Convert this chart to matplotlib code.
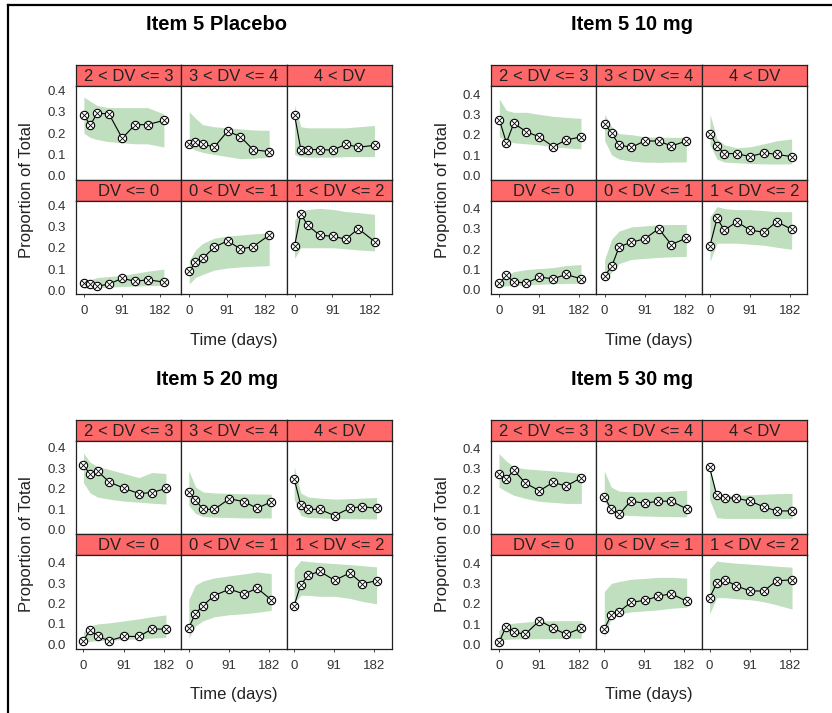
import matplotlib.pyplot as plt
from matplotlib.lines import Line2D

plt.rcParams['font.family'] = ['Liberation Sans', 'DejaVu Sans']

# facet order: top row left->right, then bottom row left->right
strip_labels = ['2 < DV <= 3', '3 < DV <= 4', '4 < DV',
                'DV <= 0', '0 < DV <= 1', '1 < DV <= 2']
panel_titles = ['Item 5 Placebo', 'Item 5 10 mg', 'Item 5 20 mg', 'Item 5 30 mg']
x_ticks = [0, 91, 182]
y_ticks = [0.0, 0.1, 0.2, 0.3, 0.4]

# nominal visit times (days) per arm
pbo_time = [0, 15, 32, 60, 92, 123, 153, 192]
d10_time = [0, 16, 33, 61, 91, 123, 152, 186]
d20_time = [0, 15, 32, 58, 92, 126, 155, 187]
d30_time = [0, 16, 34, 60, 92, 123, 152, 187]

# observed proportions
pbo_obs = [
    [0.285, 0.238, 0.293, 0.291, 0.176, 0.240, 0.240, 0.260],
    [0.148, 0.159, 0.150, 0.134, 0.209, 0.184, 0.123, 0.113],
    [0.285, 0.123, 0.123, 0.123, 0.120, 0.148, 0.134, 0.143],
    [0.033, 0.031, 0.020, 0.029, 0.057, 0.042, 0.050, 0.039],
    [0.090, 0.132, 0.150, 0.202, 0.233, 0.194, 0.205, 0.259],
    [0.209, 0.357, 0.305, 0.259, 0.254, 0.240, 0.290, 0.229],
]
d10_obs = [
    [0.274, 0.161, 0.256, 0.215, 0.189, 0.141, 0.174, 0.189],
    [0.252, 0.207, 0.149, 0.138, 0.169, 0.169, 0.144, 0.169],
    [0.205, 0.143, 0.107, 0.107, 0.092, 0.111, 0.103, 0.092],
    [0.033, 0.071, 0.041, 0.033, 0.063, 0.055, 0.076, 0.055],
    [0.069, 0.116, 0.212, 0.235, 0.251, 0.301, 0.223, 0.255],
    [0.218, 0.352, 0.294, 0.336, 0.294, 0.284, 0.336, 0.298],
]
d20_obs = [
    [0.316, 0.271, 0.287, 0.234, 0.203, 0.177, 0.182, 0.202],
    [0.187, 0.147, 0.100, 0.100, 0.152, 0.137, 0.105, 0.137],
    [0.250, 0.121, 0.100, 0.100, 0.069, 0.106, 0.113, 0.105],
    [0.018, 0.072, 0.039, 0.018, 0.039, 0.039, 0.075, 0.075],
    [0.082, 0.151, 0.190, 0.239, 0.270, 0.246, 0.275, 0.218],
    [0.190, 0.292, 0.338, 0.357, 0.313, 0.349, 0.297, 0.311],
]
d30_obs = [
    [0.277, 0.249, 0.293, 0.230, 0.192, 0.234, 0.215, 0.256],
    [0.162, 0.102, 0.077, 0.141, 0.131, 0.141, 0.141, 0.103],
    [0.308, 0.170, 0.157, 0.156, 0.141, 0.113, 0.093, 0.093],
    [0.010, 0.087, 0.059, 0.051, 0.117, 0.081, 0.049, 0.081],
    [0.076, 0.145, 0.161, 0.207, 0.217, 0.237, 0.250, 0.212],
    [0.229, 0.301, 0.319, 0.288, 0.263, 0.263, 0.313, 0.318],
]

# simulated prediction interval (lower / upper)
pbo_lo = [
    [0.200, 0.180, 0.170, 0.160, 0.155, 0.150, 0.150, 0.135],
    [0.135, 0.120, 0.110, 0.100, 0.090, 0.080, 0.082, 0.087],
    [0.100, 0.090, 0.087, 0.087, 0.087, 0.090, 0.090, 0.090],
    [0.010, 0.010, 0.012, 0.015, 0.018, 0.020, 0.022, 0.023],
    [0.030, 0.060, 0.075, 0.095, 0.105, 0.110, 0.113, 0.116],
    [0.150, 0.200, 0.200, 0.200, 0.200, 0.195, 0.190, 0.185],
]
pbo_hi = [
    [0.370, 0.350, 0.330, 0.320, 0.320, 0.320, 0.320, 0.290],
    [0.300, 0.270, 0.240, 0.230, 0.225, 0.220, 0.215, 0.213],
    [0.330, 0.230, 0.225, 0.225, 0.225, 0.225, 0.230, 0.236],
    [0.040, 0.050, 0.060, 0.065, 0.070, 0.080, 0.090, 0.100],
    [0.140, 0.190, 0.220, 0.245, 0.255, 0.260, 0.265, 0.270],
    [0.330, 0.370, 0.380, 0.385, 0.380, 0.370, 0.365, 0.357],
]
d10_lo = [
    [0.190, 0.170, 0.160, 0.155, 0.150, 0.140, 0.135, 0.130],
    [0.170, 0.100, 0.080, 0.070, 0.065, 0.064, 0.065, 0.066],
    [0.150, 0.080, 0.065, 0.062, 0.058, 0.056, 0.056, 0.056],
    [0.015, 0.020, 0.022, 0.025, 0.028, 0.030, 0.032, 0.033],
    [0.040, 0.090, 0.130, 0.150, 0.155, 0.160, 0.163, 0.165],
    [0.140, 0.230, 0.230, 0.230, 0.225, 0.220, 0.210, 0.200],
]
d10_hi = [
    [0.375, 0.320, 0.310, 0.310, 0.300, 0.290, 0.285, 0.280],
    [0.300, 0.240, 0.205, 0.200, 0.190, 0.187, 0.187, 0.187],
    [0.300, 0.180, 0.150, 0.135, 0.140, 0.155, 0.170, 0.179],
    [0.040, 0.070, 0.090, 0.100, 0.105, 0.110, 0.120, 0.125],
    [0.150, 0.250, 0.290, 0.310, 0.315, 0.320, 0.322, 0.322],
    [0.360, 0.410, 0.400, 0.395, 0.395, 0.390, 0.385, 0.385],
]
d20_lo = [
    [0.230, 0.180, 0.160, 0.150, 0.140, 0.135, 0.130, 0.126],
    [0.120, 0.080, 0.065, 0.062, 0.060, 0.058, 0.058, 0.058],
    [0.150, 0.070, 0.060, 0.058, 0.055, 0.054, 0.054, 0.053],
    [0.010, 0.015, 0.018, 0.020, 0.024, 0.028, 0.031, 0.034],
    [0.030, 0.090, 0.115, 0.135, 0.145, 0.150, 0.157, 0.166],
    [0.200, 0.240, 0.240, 0.235, 0.235, 0.225, 0.210, 0.198],
]
d20_hi = [
    [0.375, 0.330, 0.310, 0.295, 0.275, 0.255, 0.280, 0.275],
    [0.290, 0.210, 0.185, 0.180, 0.178, 0.176, 0.175, 0.174],
    [0.310, 0.180, 0.160, 0.155, 0.150, 0.152, 0.155, 0.158],
    [0.060, 0.090, 0.100, 0.105, 0.115, 0.125, 0.135, 0.144],
    [0.220, 0.290, 0.310, 0.325, 0.335, 0.345, 0.354, 0.346],
    [0.370, 0.410, 0.405, 0.400, 0.395, 0.390, 0.385, 0.379],
]
d30_lo = [
    [0.210, 0.190, 0.170, 0.155, 0.140, 0.135, 0.130, 0.130],
    [0.140, 0.090, 0.075, 0.070, 0.068, 0.066, 0.065, 0.064],
    [0.150, 0.060, 0.056, 0.056, 0.056, 0.056, 0.056, 0.056],
    [0.020, 0.025, 0.027, 0.028, 0.028, 0.029, 0.030, 0.030],
    [0.035, 0.130, 0.150, 0.160, 0.165, 0.170, 0.178, 0.183],
    [0.150, 0.230, 0.230, 0.225, 0.220, 0.210, 0.195, 0.174],
]
d30_hi = [
    [0.375, 0.340, 0.310, 0.300, 0.295, 0.290, 0.285, 0.277],
    [0.290, 0.210, 0.190, 0.187, 0.187, 0.187, 0.190, 0.195],
    [0.300, 0.180, 0.170, 0.170, 0.172, 0.175, 0.178, 0.179],
    [0.070, 0.100, 0.105, 0.110, 0.115, 0.117, 0.117, 0.117],
    [0.260, 0.300, 0.310, 0.320, 0.325, 0.330, 0.330, 0.326],
    [0.370, 0.410, 0.405, 0.400, 0.395, 0.390, 0.385, 0.380],
]

times = [pbo_time, d10_time, d20_time, d30_time]
obs = [pbo_obs, d10_obs, d20_obs, d30_obs]
lows = [pbo_lo, d10_lo, d20_lo, d30_lo]
highs = [pbo_hi, d10_hi, d20_hi, d30_hi]
xlims = [(-19, 234), (-19, 221), (-17, 222), (-18, 221)]
ylims = [(-0.018, 0.42), (-0.021, 0.438), (-0.021, 0.435), (-0.021, 0.438)]

W, H = 832, 713
fig = plt.figure(figsize=(W / 100, H / 100), dpi=100)


def px_box(x, y, w, h):
    return [x / W, 1 - (y + h) / H, w / W, h / H]


strip_col = '#ff6868'
band_col = '#bfdfbf'
frame_col = '#222222'
gw, sh, fh = 316, 21.3, 93.3
cw = gw / 3
origins = [(76, 65), (491, 65), (76, 419.5), (491, 419.5)]

for p, (gx, gy) in enumerate(origins):
    for k in range(6):
        r, c = divmod(k, 3)
        top = gy + r * (sh + fh)
        # strip
        sax = fig.add_axes(px_box(gx + c * cw, top, cw, sh))
        sax.set_facecolor(strip_col)
        sax.set_xticks([])
        sax.set_yticks([])
        for s in sax.spines.values():
            s.set_color(frame_col)
            s.set_linewidth(0.9)
        sax.text(0.5, 0.45, strip_labels[k], ha='center', va='center',
                 fontsize=12, color='#222222', transform=sax.transAxes)
        # facet
        ax = fig.add_axes(px_box(gx + c * cw, top + sh, cw, fh))
        t = times[p]
        ax.fill_between(t, lows[p][k], highs[p][k], color=band_col, lw=0)
        ax.plot(t, obs[p][k], color='black', lw=0.8, marker='o', ms=6,
                mfc='white', mec='black', mew=0.8)
        ax.plot(t, obs[p][k], ls='none', marker='x', ms=4, color='black', mew=0.6)
        ax.set_xlim(*xlims[p])
        ax.set_ylim(*ylims[p])
        ax.set_xticks(x_ticks)
        ax.set_yticks(y_ticks)
        for s in ax.spines.values():
            s.set_color(frame_col)
            s.set_linewidth(0.9)
        ax.tick_params(axis='x', length=2, width=0.7, color='#444444',
                       labelsize=9.5, labelcolor='#333333', pad=6)
        ax.tick_params(axis='y', length=0, labelsize=9.5,
                       labelcolor='#333333', pad=7)
        if r == 0:
            ax.set_xticklabels([])
        if c != 0:
            ax.set_yticklabels([])
        else:
            ax.set_yticklabels(['%.1f' % v for v in y_ticks])

    cx = gx + gw / 2
    fig.text((cx - 17) / W, 1 - (gy - 40) / H, panel_titles[p], ha='center',
             va='center', fontsize=14.5, fontweight='bold')
    fig.text(cx / W, 1 - (gy + 275) / H, 'Time (days)', ha='center',
             va='center', fontsize=12, color='#222222')
    fig.text((gx - 49) / W, 1 - (gy + 125) / H, 'Proportion of Total',
             ha='center', va='center', rotation=90, fontsize=12, color='#222222')

# outer frame of the screenshot
fig.add_artist(Line2D([8 / W, 8 / W], [0, 1 - 5 / H], color='black', lw=1.6))
fig.add_artist(Line2D([8 / W, 1], [1 - 5 / H, 1 - 5 / H], color='black', lw=1.6))

fig.savefig('out.png', dpi=100)
